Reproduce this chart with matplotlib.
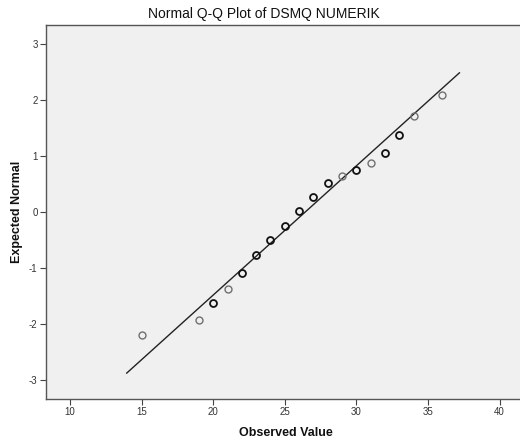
import matplotlib
matplotlib.use("Agg")
import matplotlib.pyplot as plt
import numpy as np

plt.rcParams['font.family'] = ['Liberation Sans', 'DejaVu Sans']
plt.rcParams['axes.unicode_minus'] = False

# Data
observed = [15, 19, 20, 21, 22, 23, 24, 25, 26, 27, 28, 29, 30, 31, 32, 33, 34, 36]
expected = [-2.20, -1.93, -1.62, -1.37, -1.10, -0.77, -0.50, -0.25, 0.01, 0.27,
            0.51, 0.64, 0.74, 0.87, 1.04, 1.36, 1.71, 2.09]
line_x = [13.96, 37.2]
mean_val = 26.45
sd_val = 4.34
x_ticks = [10, 15, 20, 25, 30, 35, 40]
y_ticks = [-3, -2, -1, 0, 1, 2, 3]

light = {15, 19, 21, 29, 31, 34, 36}

fig = plt.figure(figsize=(5.2, 4.46), dpi=100)
ax = fig.add_axes([46/520, 1-399/446, (531-46)/520, (399-25)/446])
ax.set_facecolor('#F0F0F0')

lx = np.array(line_x)
ax.plot(lx, (lx - mean_val) / sd_val, color='#222222', lw=1.0, zorder=2)

for xv, yv in zip(observed, expected):
    ec = '#707070' if xv in light else '#111111'
    lw = 1.0 if xv in light else 1.3
    ax.plot([xv], [yv], marker='o', ms=5, mfc='none', mec=ec, mew=lw,
            ls='none', zorder=3)

ax.set_xlim(8.32, 42.2)
ax.set_ylim(-3.34, 3.33)
ax.set_xticks(x_ticks)
ax.set_yticks(y_ticks)
ax.tick_params(axis='both', labelsize=7, colors='#444444', length=4, width=0.8,
               direction='out', pad=2, labelcolor='#333333')
for s in ['left', 'bottom', 'top', 'right']:
    ax.spines[s].set_color('#555555')
    ax.spines[s].set_linewidth(1.0)

fig.text(264/520, 1-14/446, 'Normal Q-Q Plot of DSMQ NUMERIK', ha='center',
         va='center', fontsize=10, color='#111111')
fig.text(286/520, 1-433/446, 'Observed Value', ha='center', va='center',
         fontsize=9, fontweight='bold', color='#111111')
fig.text(17/520, 1-212/446, 'Expected Normal', ha='center', va='center',
         fontsize=9, fontweight='bold', rotation=90, color='#111111')

fig.savefig('out.png', dpi=100, facecolor='white')
